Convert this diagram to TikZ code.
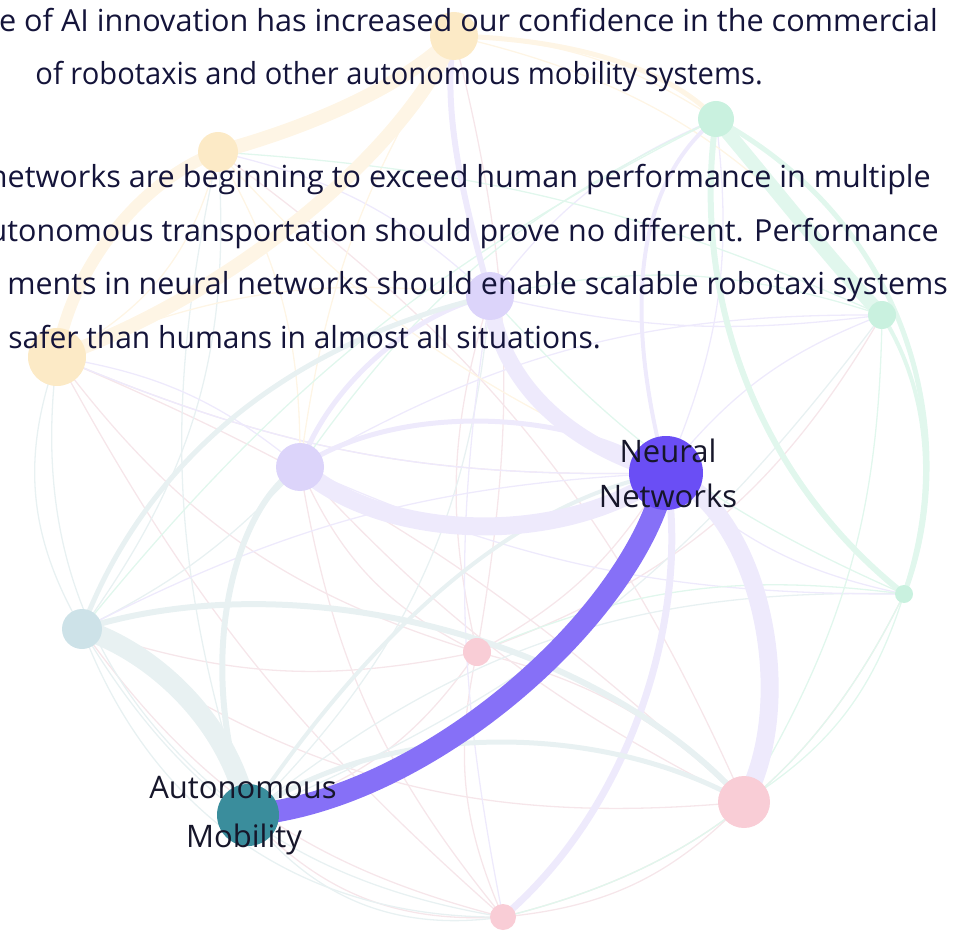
\documentclass[tikz,border=0pt]{standalone}
\usepackage{fontspec}
\setmainfont{Open Sans}
\definecolor{txt}{HTML}{14143A}
\definecolor{lbl}{HTML}{16162A}
\definecolor{yelN}{HTML}{FCEAC6}
\definecolor{yelE}{HTML}{FEF5E5}
\definecolor{grnN}{HTML}{C9F1DF}
\definecolor{grnE}{HTML}{E1F7ED}
\definecolor{lavN}{HTML}{DCD4FA}
\definecolor{lavE}{HTML}{EEEAFC}
\definecolor{tealN}{HTML}{CDE2E8}
\definecolor{tealE}{HTML}{E8F1F2}
\definecolor{pinkN}{HTML}{F9CDD6}
\definecolor{pinkE}{HTML}{F6E6EA}
\definecolor{nnC}{HTML}{6A4EF5}
\definecolor{amC}{HTML}{3A8D9C}
\definecolor{band}{HTML}{8670F7}
\tikzset{
  dot/.style={circle, inner sep=0pt, draw=none},
  tpk/.style={draw=pinkE, line width=1.3pt},
  tte/.style={draw=tealE, line width=1.3pt},
  tlv/.style={draw=lavE, line width=1.3pt},
  tye/.style={draw=yelE, line width=1.3pt},
  tgr/.style={draw=grnE, line width=1.3pt},
  para/.style={anchor=base east, inner sep=0pt, text=txt, font=\fontsize{30.4}{35}\selectfont},
  lab/.style={anchor=base, inner sep=0pt, text=lbl, font=\fontsize{31}{36}\selectfont}
}
\begin{document}
\begin{tikzpicture}[x=1pt,y=-1pt]
\useasboundingbox (0,0) rectangle (956,933);
\clip (0,0) rectangle (956,933);
% node positions
\coordinate (yT) at (454,36);
\coordinate (yM) at (218,152);
\coordinate (yL) at (57,357);
\coordinate (gT) at (716,119);
\coordinate (gR) at (882,315);
\coordinate (gS) at (904,594);
\coordinate (lT) at (490,296);
\coordinate (lM) at (300,467);
\coordinate (nn) at (666,473);
\coordinate (tL) at (82,629);
\coordinate (pC) at (477,652);
\coordinate (am) at (248,815);
\coordinate (pL) at (744,802);
\coordinate (pB) at (503,917);
% thin edges
\draw[tpk] (pC) to[bend left=15] (lT);
\draw[tpk] (pC) to[bend right=12] (yT);
\draw[tpk] (pC) to[bend left=18] (yL);
\draw[tpk] (pC) to[bend left=20] (am);
\draw[tpk] (pC) to[bend right=18] (pB);
\draw[tpk] (pC) to[bend left=15] (pL);
\draw[tpk] (pC) to[bend right=20] (gR);
\draw[tpk] (pC) to[bend left=15] (tL);
\draw[tpk] (pC) to[bend right=15] (nn);
\draw[tpk] (pB) to[bend left=25] (am);
\draw[tpk] (pB) to[bend right=20] (pL);
\draw[tpk] (pB) to[bend left=15] (lM);
\draw[tpk] (pB) to[bend left=20] (tL);
\draw[tpk] (pB) to[bend right=25] (gS);
\draw[tpk] (pB) to[bend left=10] (yL);
\draw[tpk] (pL) to[bend left=10] (lM);
\draw[tpk] (pL) to[bend right=15] (yM);
\draw[tpk] (pL) to[bend left=20] (tL);
\draw[tpk] (yL) to[bend left=10] (pL);
\draw[tpk] (yL) to[bend right=12] (nn);
\draw[tpk] (lM) to[bend right=20] (pC);
\draw[tte] (tL) to[bend left=25] (yL);
\draw[tte] (tL) to[bend right=20] (yM);
\draw[tte] (tL) to[bend right=10] (lM);
\draw[tte] (am) to[bend left=30] (yL);
\draw[tte] (am) to[bend left=20] (gS);
\draw[tte] (am) to[bend right=15] (gR);
\draw[tte] (am) to[bend left=15] (yM);
\draw[tte] (am) to[bend right=20] (lT);
\draw[tte] (tL) to[bend right=25] (pB);
\draw[tte] (am) to[bend right=30] (pB);
\draw[tte] (tL) to[bend right=35] (pB);
\draw[tlv] (lT) to[bend right=15] (yM);
\draw[tlv] (lT) to[bend left=15] (gT);
\draw[tlv] (lT) to[bend right=10] (gR);
\draw[tlv] (lT) to[bend right=10] (pB);
\draw[tlv] (lM) to[bend right=15] (yL);
\draw[tlv] (lM) to[bend left=15] (gR);
\draw[tlv] (lM) to[bend right=12] (gS);
\draw[tlv] (nn) to[bend right=15] (gT);
\draw[tlv] (nn) to[bend left=15] (gR);
\draw[tlv] (nn) to[bend right=15] (gS);
\draw[tlv] (nn) to[bend left=12] (yL);
\draw[tlv] (nn) to[bend right=12] (tL);
\draw[tye] (yT) to[bend left=15] (gT);
\draw[tye] (yT) to[bend right=12] (lM);
\draw[tye] (yT) to[bend left=20] (gR);
\draw[tye] (yL) to[bend left=15] (lT);
\draw[tye] (yM) to[bend left=15] (lM);
\draw[tye] (yM) to[bend right=12] (nn);
\draw[tye] (yL) to[bend right=25] (yM);
\draw[tgr] (gT) to[bend right=15] (lM);
\draw[tgr] (gT) to[bend right=12] (tL);
\draw[tgr] (gR) to[bend right=15] (lT);
\draw[tgr] (gS) to[bend left=12] (lT);
\draw[tgr] (gS) to[bend right=15] (pC);
\draw[tgr] (gS) to[bend left=20] (pL);
\draw[tgr] (gR) to[bend left=15] (pL);
\draw[tgr] (gR) to[bend right=10] (yM);
\draw[tgr] (gS) to[bend left=25] (pB);
% medium edges
\draw[draw=lavE, line width=5pt] (lM) .. controls (400,400) and (580,410) .. (nn);
\draw[draw=lavE, line width=5pt] (lM) .. controls (330,380) and (420,310) .. (lT);
\draw[draw=lavE, line width=6pt] (yT) .. controls (440,120) and (470,220) .. (lT);
\draw[draw=lavE, line width=4pt] (nn) .. controls (620,300) and (640,180) .. (gT);
\draw[draw=lavE, line width=7pt] (nn) .. controls (690,600) and (640,800) .. (pB);
\draw[draw=grnE, line width=6pt] (gT) .. controls (690,300) and (760,480) .. (gS);
\draw[draw=grnE, line width=5pt] (gT) .. controls (920,230) and (960,450) .. (gS);
\draw[draw=grnE, line width=4pt] (gR) .. controls (935,400) and (935,500) .. (gS);
\draw[draw=tealE, line width=6pt] (tL) .. controls (300,560) and (600,640) .. (pL);
\draw[draw=tealE, line width=5pt] (am) .. controls (380,720) and (600,720) .. (pL);
\draw[draw=tealE, line width=6pt] (am) .. controls (190,650) and (240,500) .. (lM);
\draw[draw=tealE, line width=5pt] (tL) .. controls (150,450) and (300,340) .. (lT);
\draw[draw=tealE, line width=4pt] (am) .. controls (380,620) and (520,500) .. (nn);
\draw[draw=yelE, line width=5pt] (yT) .. controls (600,40) and (680,80) .. (gT);
% thick edges
\draw[draw=yelE, line width=14pt] (yM) .. controls (300,130) and (400,90) .. (yT);
\draw[draw=yelE, line width=14pt] (yT) .. controls (400,160) and (220,300) .. (yL);
\draw[draw=yelE, line width=12pt] (yL) .. controls (70,270) and (140,180) .. (yM);
\draw[draw=lavE, line width=16pt] (lT) .. controls (500,390) and (580,450) .. (nn);
\draw[draw=lavE, line width=18pt] (lM) .. controls (380,540) and (560,550) .. (nn);
\draw[draw=lavE, line width=18pt] (nn) .. controls (760,510) and (800,700) .. (pL);
\draw[draw=grnE, line width=14pt] (gT) .. controls (760,170) and (830,260) .. (gR);
\draw[draw=tealE, line width=20pt] (tL) .. controls (150,650) and (230,720) .. (am);
% main edge
\draw[draw=band, line width=22pt] (am) .. controls (430,800) and (640,610) .. (nn);
% nodes
\node[dot, fill=yelN, minimum size=48pt] (nyT) at (yT) {};
\node[dot, fill=yelN, minimum size=40pt] (nyM) at (yM) {};
\node[dot, fill=yelN, minimum size=58pt] (nyL) at (yL) {};
\node[dot, fill=grnN, minimum size=36pt] (ngT) at (gT) {};
\node[dot, fill=grnN, minimum size=28pt] (ngR) at (gR) {};
\node[dot, fill=grnN, minimum size=18pt] (ngS) at (gS) {};
\node[dot, fill=lavN, minimum size=48pt] (nlT) at (lT) {};
\node[dot, fill=lavN, minimum size=48pt] (nlM) at (lM) {};
\node[dot, fill=nnC, minimum size=74pt] (nnn) at (nn) {};
\node[dot, fill=tealN, minimum size=40pt] (ntL) at (tL) {};
\node[dot, fill=pinkN, minimum size=28pt] (npC) at (pC) {};
\node[dot, fill=amC, minimum size=62pt] (nam) at (am) {};
\node[dot, fill=pinkN, minimum size=52pt] (npL) at (pL) {};
\node[dot, fill=pinkN, minimum size=26pt] (npB) at (pB) {};
% labels
\node[lab] (l1) at (668,462) {Neural};
\node[lab] (l2) at (668,507) {Networks};
\node[lab] (l3) at (243,798) {Autonomous};
\node[lab] (l4) at (244,847) {Mobility};
% paragraph
\node[para] (t1) at (938,32) {\scalebox{1.007}[1]{e of AI innovation has increased our confidence in the commercial}};
\node[para] (t2) at (763,85) {\scalebox{0.958}[1]{of robotaxis and other autonomous mobility systems.}};
\node[para] (t3) at (931,188) {\scalebox{1.005}[1]{networks are beginning to exceed human performance in multiple}};
\node[para] (t4) at (939,241.5) {\scalebox{1.002}[1]{utonomous transportation should prove no different. Performance}};
\node[para] (t5) at (948,295) {ments in neural networks should enable scalable robotaxi systems};
\node[para] (t6) at (601,348.5) {\scalebox{0.986}[1]{safer than humans in almost all situations.}};
\end{tikzpicture}
\end{document}
